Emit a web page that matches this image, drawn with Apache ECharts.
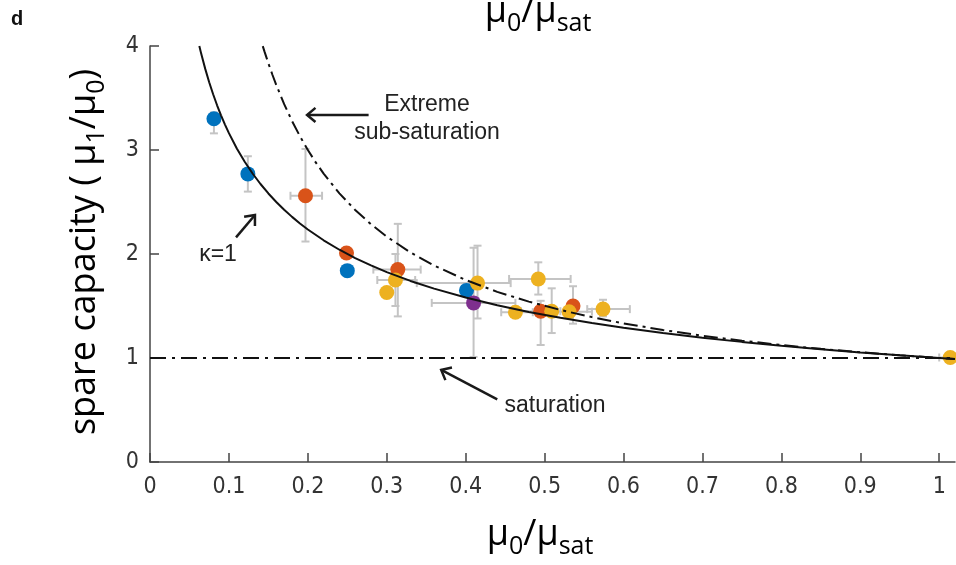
<!DOCTYPE html>
<html><head><meta charset="utf-8">
<script src="https://cdn.jsdelivr.net/npm/echarts@6/dist/echarts.min.js"></script>
<style>html,body{margin:0;padding:0;background:#fff}#c{width:956px;height:565px}</style>
</head><body><div id="c"></div>
<script>
// ---- axis ticks ----
const xTicks = [0, 0.1, 0.2, 0.3, 0.4, 0.5, 0.6, 0.7, 0.8, 0.9, 1];
const yTicks = [0, 1, 2, 3, 4];

// ---- measured points (by colour group) ----
const blueX = [0.081, 0.124, 0.250, 0.401];
const blueY = [3.30, 2.77, 1.84, 1.65];
const orangeX = [0.197, 0.249, 0.314, 0.495, 0.536];
const orangeY = [2.56, 2.01, 1.85, 1.45, 1.50];
const yellowX = [0.300, 0.311, 0.415, 0.463, 0.492, 0.509, 0.531, 0.574, 1.014];
const yellowY = [1.63, 1.75, 1.72, 1.44, 1.76, 1.45, 1.445, 1.47, 1.005];
const purpleX = [0.410];
const purpleY = [1.53];

// ---- error bars: centre x, centre y, x low, x high, y low, y high ----
const errX    = [0.081, 0.124, 0.197, 0.314, 0.311, 0.415, 0.410, 0.463, 0.492, 0.495, 0.509, 0.531, 0.536, 0.574, 1.014];
const errY    = [3.30, 2.77, 2.56, 1.85, 1.75, 1.72, 1.53, 1.44, 1.76, 1.45, 1.45, 1.445, 1.50, 1.47, 1.005];
const errXLo  = [null, null, 0.178, 0.283, 0.288, 0.338, 0.357, 0.445, 0.455, 0.470, null, 0.505, null, 0.554, 1.000];
const errXHi  = [null, null, 0.218, 0.343, 0.336, 0.457, 0.463, 0.485, 0.533, 0.520, null, 0.560, null, 0.608, 1.025];
const errYLo  = [3.16, 2.60, 2.12, 1.40, 1.50, 1.38, 1.01, null, 1.61, 1.125, 1.24, null, 1.33, 1.40, 0.98];
const errYHi  = [3.36, 2.94, 3.01, 2.29, 2.00, 2.08, 2.06, null, 1.92, 1.55, 1.67, null, 1.69, 1.56, 1.03];

// ---- curves ----
const kappaX = [0.0625, 0.065, 0.07, 0.075, 0.08, 0.085, 0.09, 0.095, 0.10, 0.11, 0.12, 0.13, 0.14, 0.15, 0.16, 0.17, 0.18, 0.19, 0.20, 0.22, 0.24, 0.26, 0.28, 0.30, 0.33, 0.36, 0.40, 0.44, 0.48, 0.52, 0.56, 0.60, 0.65, 0.70, 0.75, 0.80, 0.85, 0.90, 0.95, 1.00, 1.02];
const kappaY = [4.000, 3.922, 3.780, 3.651, 3.536, 3.430, 3.333, 3.244, 3.162, 3.015, 2.887, 2.774, 2.673, 2.582, 2.500, 2.425, 2.357, 2.294, 2.236, 2.132, 2.041, 1.961, 1.890, 1.826, 1.741, 1.667, 1.581, 1.508, 1.443, 1.387, 1.336, 1.291, 1.240, 1.195, 1.155, 1.118, 1.085, 1.054, 1.026, 1.000, 0.990];
const extremeX = [0.1429, 0.145, 0.15, 0.155, 0.16, 0.17, 0.18, 0.19, 0.20, 0.21, 0.22, 0.24, 0.26, 0.28, 0.30, 0.33, 0.36, 0.40, 0.44, 0.48, 0.52, 0.56, 0.60, 0.65, 0.70, 0.75, 0.80, 0.85, 0.90, 0.95, 1.00, 1.02];
const extremeY = [3.999, 3.948, 3.833, 3.726, 3.625, 3.441, 3.278, 3.132, 3.000, 2.881, 2.773, 2.583, 2.423, 2.286, 2.167, 2.015, 1.889, 1.750, 1.636, 1.542, 1.462, 1.393, 1.333, 1.269, 1.214, 1.167, 1.125, 1.088, 1.056, 1.026, 1.000, 0.990];
const satX = [0, 1.02];
const satY = [1, 1];

// ---- annotation arrows (tail -> head, data units) ----
const arrowTailX = [0.277, 0.109, 0.440];
const arrowTailY = [3.337, 2.16, 0.603];
const arrowHeadX = [0.199, 0.133, 0.369];
const arrowHeadY = [3.337, 2.375, 0.885];

const zip = (a, b) => a.map((v, i) => [v, b[i]]);
const TXT = '#333';
const FONT = 'Open Sans';
const TICKFONT = '"Liberation Sans Narrow", "DejaVu Sans Condensed", "Open Sans", sans-serif';
const ANNFONT = '"Liberation Sans", Arial, sans-serif';

const titleRich = {
  m: { fontFamily: FONT, fontSize: 36, lineHeight: 49, color: TXT },
  s: { fontFamily: FONT, fontSize: 25, verticalAlign: 'bottom', color: TXT }
};

const chart = echarts.init(document.getElementById('c'), null, { renderer: 'canvas' });

const errData = errX.map((x, i) => [x, errY[i], errXLo[i], errXHi[i], errYLo[i], errYHi[i]]);
const arrowData = arrowTailX.map((x, i) => [x, arrowTailY[i], arrowHeadX[i], arrowHeadY[i]]);

function scatter(name, xs, ys, color) {
  return {
    name, type: 'scatter', data: zip(xs, ys), symbol: 'circle', symbolSize: 15,
    itemStyle: { color: color, opacity: 1 }, z: 3, clip: false, silent: true
  };
}

const option = {
  animation: false,
  backgroundColor: '#fff',
  grid: { left: 150, top: 46, right: 1, bottom: 103, containLabel: false },
  xAxis: {
    type: 'value', min: 0, max: 1.02, interval: 0.1,
    axisLine: { show: true, onZero: false, lineStyle: { color: '#444', width: 1.5 } },
    axisTick: { show: true, inside: true, length: 9, customValues: xTicks, lineStyle: { color: '#444', width: 1.5 } },
    axisLabel: { customValues: xTicks, formatter: v => String(v), color: TXT, fontFamily: TICKFONT, fontSize: 23, margin: 14 },
    splitLine: { show: false }
  },
  yAxis: {
    type: 'value', min: 0, max: 4, interval: 1,
    axisLine: { show: true, onZero: false, lineStyle: { color: '#444', width: 1.5 } },
    axisTick: { show: true, inside: true, length: 9, lineStyle: { color: '#444', width: 1.5 } },
    axisLabel: { color: TXT, fontFamily: TICKFONT, fontSize: 23, margin: 11 },
    splitLine: { show: false }
  },
  graphic: [
    { type: 'text', left: 11, top: 9, style: { text: 'd', font: 'bold 20px "Liberation Sans", Arial, sans-serif', fill: '#111' } },
    { type: 'text', x: 540, y: 535, style: { text: '{m|μ}{s|0}{m|/μ}{s|sat}', rich: titleRich, align: 'center', verticalAlign: 'middle' } },
    { type: 'text', x: 538, y: 12, style: { text: '{m|μ}{s|0}{m|/μ}{s|sat}', rich: titleRich, align: 'center', verticalAlign: 'middle' } },
    { type: 'text', x: 85, y: 252, rotation: Math.PI / 2, style: { text: '{m|spare capacity ( μ}{s|1}{m|/μ}{s|0}{m|)}', rich: titleRich, align: 'center', verticalAlign: 'middle' } },
    { type: 'text', x: 427, y: 105, style: { text: 'Extreme', font: '23px ' + ANNFONT, fill: '#222', align: 'center', verticalAlign: 'middle' } },
    { type: 'text', x: 427, y: 133, style: { text: 'sub-saturation', font: '23px ' + ANNFONT, fill: '#222', align: 'center', verticalAlign: 'middle' } },
    { type: 'text', x: 218, y: 255, style: { text: 'κ=1', font: '23px ' + ANNFONT, fill: '#222', align: 'center', verticalAlign: 'middle' } },
    { type: 'text', x: 555, y: 406, style: { text: 'saturation', font: '23px ' + ANNFONT, fill: '#222', align: 'center', verticalAlign: 'middle' } }
  ],
  series: [
    {
      name: 'errorbars', type: 'custom', data: errData, z: 1, silent: true,
      renderItem: (params, api) => {
        const cap = 4;
        const children = [];
        const st = { stroke: '#c4c4c4', lineWidth: 2 };
        const xc = api.value(0), yc = api.value(1);
        const xl = api.value(2), xh = api.value(3), yl = api.value(4), yh = api.value(5);
        if (yl != null && !isNaN(yl)) {
          const a = api.coord([xc, yl]), b = api.coord([xc, yh]);
          children.push({ type: 'line', shape: { x1: a[0], y1: a[1], x2: b[0], y2: b[1] }, style: st });
          children.push({ type: 'line', shape: { x1: a[0] - cap, y1: a[1], x2: a[0] + cap, y2: a[1] }, style: st });
          children.push({ type: 'line', shape: { x1: b[0] - cap, y1: b[1], x2: b[0] + cap, y2: b[1] }, style: st });
        }
        if (xl != null && !isNaN(xl)) {
          const a = api.coord([xl, yc]), b = api.coord([xh, yc]);
          children.push({ type: 'line', shape: { x1: a[0], y1: a[1], x2: b[0], y2: b[1] }, style: st });
          children.push({ type: 'line', shape: { x1: a[0], y1: a[1] - cap, x2: a[0], y2: a[1] + cap }, style: st });
          children.push({ type: 'line', shape: { x1: b[0], y1: b[1] - cap, x2: b[0], y2: b[1] + cap }, style: st });
        }
        return { type: 'group', children };
      }
    },
    scatter('blue', blueX, blueY, '#0072BD'),
    scatter('orange', orangeX, orangeY, '#D95319'),
    scatter('yellow', yellowX, yellowY, '#EDB120'),
    scatter('purple', purpleX, purpleY, '#7E2F8E'),
    {
      name: 'kappa', type: 'line', data: zip(kappaX, kappaY), showSymbol: false, smooth: false,
      lineStyle: { color: '#111', width: 2 }, z: 4, silent: true
    },
    {
      name: 'extreme', type: 'line', data: zip(extremeX, extremeY), showSymbol: false, smooth: false,
      lineStyle: { color: '#111', width: 2, type: [14, 5, 3, 5] }, z: 4, silent: true
    },
    {
      name: 'saturation', type: 'line', data: zip(satX, satY), showSymbol: false,
      lineStyle: { color: '#111', width: 2, type: [16, 6, 3, 6] }, z: 4, silent: true
    },
    {
      name: 'arrows', type: 'custom', data: arrowData, z: 5, silent: true,
      renderItem: (params, api) => {
        const p1 = api.coord([api.value(0), api.value(1)]);
        const p2 = api.coord([api.value(2), api.value(3)]);
        const ang = Math.atan2(p2[1] - p1[1], p2[0] - p1[0]);
        const L = 11, a = 0.7;
        const w1 = [p2[0] - L * Math.cos(ang - a), p2[1] - L * Math.sin(ang - a)];
        const w2 = [p2[0] - L * Math.cos(ang + a), p2[1] - L * Math.sin(ang + a)];
        const st = { stroke: '#1a1a1a', lineWidth: 2.5, fill: null };
        return { type: 'group', children: [
          { type: 'line', shape: { x1: p1[0], y1: p1[1], x2: p2[0], y2: p2[1] }, style: st },
          { type: 'polyline', shape: { points: [w1, p2, w2] }, style: st }
        ] };
      }
    }
  ]
};
chart.setOption(option);
</script>
</body></html>
